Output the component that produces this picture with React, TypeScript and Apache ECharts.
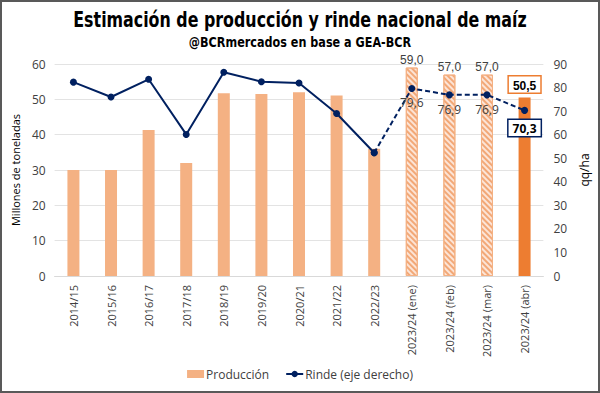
import React, { useEffect, useRef } from "react";
import * as echarts from "echarts";

const categories = [
  "2014/15", "2015/16", "2016/17", "2017/18", "2018/19", "2019/20", "2020/21",
  "2021/22", "2022/23", "2023/24 (ene)", "2023/24 (feb)", "2023/24 (mar)", "2023/24 (abr)",
];
const produccion = [30.0, 30.0, 41.3, 32.0, 51.7, 51.5, 52.0, 51.1, 36.0, 59.0, 57.0, 57.0, 50.5];
const rinde = [82.3, 76.0, 83.5, 60.1, 86.5, 82.5, 81.9, 69.0, 52.3, 79.6, 76.9, 76.9, 70.3];
const firstForecast = 9;
const leftTicks = { min: 0, max: 60, interval: 10 };
const rightTicks = { min: 0, max: 90, interval: 10 };
const titleText = "Estimación de producción y rinde nacional de maíz";
const subtitleText = "@BCRmercados en base a GEA-BCR";

const fmt = (v: number) => v.toFixed(1).replace(".", ",");
const NARROW = "'Liberation Sans Narrow', 'DejaVu Sans Condensed', 'Arial Narrow', sans-serif";
const BODY = "'Open Sans', 'Noto Sans', sans-serif";

export default function App() {
  const ref = useRef<HTMLDivElement>(null);
  useEffect(() => {
    if (!ref.current) return;
    const chart = echarts.init(ref.current, undefined, { renderer: "svg" });
    const last = categories.length - 1;
    const barData = produccion.map((v, i) => {
      if (i < firstForecast) return { value: v };
      if (i === last) {
        return {
          value: v,
          itemStyle: { color: "#ED7D31" },
          label: {
            show: true,
            position: "top",
            distance: 5,
            formatter: (p: any) => fmt(p.value),
            fontWeight: "bold",
            fontSize: 12,
            color: "#000",
            backgroundColor: "#fff",
            borderColor: "#ED7D31",
            borderWidth: 1.5,
            padding: [3, 4, 1, 4],
          },
        };
      }
      return {
        value: v,
        itemStyle: {
          color: "#FCE4D6",
          borderColor: "#F4B183",
          borderWidth: 1,
          decal: {
            symbol: "rect",
            symbolSize: 1,
            dashArrayX: [1, 0],
            dashArrayY: [1.5, 1.8],
            rotation: Math.PI / 4,
            color: "#F2A877",
          },
        },
        label: {
          show: true,
          position: "top",
          distance: 2,
          formatter: (p: any) => fmt(p.value),
          fontSize: 12,
          color: "#404040",
        },
      };
    });
    const solid = rinde.map((v, i) => (i < firstForecast ? v : "-"));
    const dashed = rinde.map((v, i) => {
      if (i < firstForecast - 1) return "-";
      if (i === firstForecast - 1) return { value: v, label: { show: false } };
      if (i === last) {
        return {
          value: v,
          label: {
            show: true,
            position: "bottom",
            distance: 6,
            fontWeight: "bold",
            color: "#000",
            backgroundColor: "#fff",
            borderColor: "#002060",
            borderWidth: 1.5,
            padding: [3, 4, 1, 4],
          },
        };
      }
      return { value: v };
    });
    chart.setOption({
      animation: false,
      backgroundColor: "#fff",
      graphic: [
        {
          type: "text",
          x: 298,
          y: 7,
          scaleX: 0.84,
          style: {
            text: titleText,
            textAlign: "center",
            font: `bold 21px ${NARROW}`,
            fill: "#000",
          },
        },
        {
          type: "text",
          x: 298,
          y: 32,
          scaleX: 0.86,
          style: {
            text: subtitleText,
            textAlign: "center",
            font: `bold 14.5px ${NARROW}`,
            fill: "#000",
          },
        },
      ],
      legend: {
        bottom: 6,
        left: "center",
        itemGap: 16,
        itemWidth: 17,
        itemHeight: 8,
        data: [
          { name: "Producción", icon: "rect", itemStyle: { color: "#F4B183" } },
          { name: "Rinde (eje derecho)" },
        ],
        textStyle: { fontFamily: BODY, fontSize: 12, color: "#404040", padding: [0, 0, 0, -3] },
      },
      grid: { left: 52, right: 52, top: 62, bottom: 115 },
      xAxis: {
        type: "category",
        data: categories,
        axisLine: { lineStyle: { color: "#D9D9D9" } },
        axisTick: { show: false },
        axisLabel: {
          rotate: 90,
          interval: 0,
          fontFamily: BODY,
          fontSize: 11,
          color: "#404040",
          margin: 9,
        },
      },
      yAxis: [
        {
          type: "value",
          ...leftTicks,
          name: "Millones de toneladas",
          nameLocation: "middle",
          nameRotate: 90,
          nameGap: 27,
          nameTextStyle: { fontFamily: BODY, fontSize: 11, color: "#000" },
          axisLabel: { fontFamily: BODY, fontSize: 12, color: "#404040", margin: 9 },
          splitLine: { lineStyle: { color: "#E3E3E3", width: 1 } },
          axisLine: { show: false },
          axisTick: { show: false },
        },
        {
          type: "value",
          ...rightTicks,
          name: "qq/ha",
          nameLocation: "middle",
          nameRotate: 90,
          nameGap: 31,
          nameTextStyle: { fontFamily: BODY, fontSize: 12, color: "#000" },
          axisLabel: { fontFamily: BODY, fontSize: 12, color: "#404040", margin: 10 },
          splitLine: { show: false },
          axisLine: { show: false },
          axisTick: { show: false },
        },
      ],
      series: [
        {
          name: "Producción",
          type: "bar",
          yAxisIndex: 0,
          barWidth: 12,
          itemStyle: { color: "#F4B183" },
          data: barData,
          z: 2,
        },
        {
          name: "Rinde (eje derecho)",
          type: "line",
          yAxisIndex: 1,
          data: solid,
          symbol: "circle",
          symbolSize: 7,
          lineStyle: { color: "#002060", width: 2 },
          itemStyle: { color: "#002060" },
          z: 3,
        },
        {
          name: "Rinde proy",
          type: "line",
          yAxisIndex: 1,
          data: dashed,
          symbol: "circle",
          symbolSize: 7,
          lineStyle: { color: "#002060", width: 2, type: [5, 3] },
          itemStyle: { color: "#002060" },
          label: {
            show: true,
            position: "bottom",
            distance: 5,
            formatter: (p: any) => fmt(p.value),
            fontFamily: BODY,
            fontSize: 12,
            color: "#404040",
          },
          z: 3,
        },
      ],
    });
    return () => chart.dispose();
  }, []);
  return (
    <div
      style={{
        position: "absolute",
        left: 0,
        top: 0,
        width: 600,
        height: 393,
        border: "2px solid #595959",
        boxSizing: "border-box",
        background: "#fff",
      }}
    >
      <div ref={ref} style={{ width: 596, height: 389 }} />
    </div>
  );
}
